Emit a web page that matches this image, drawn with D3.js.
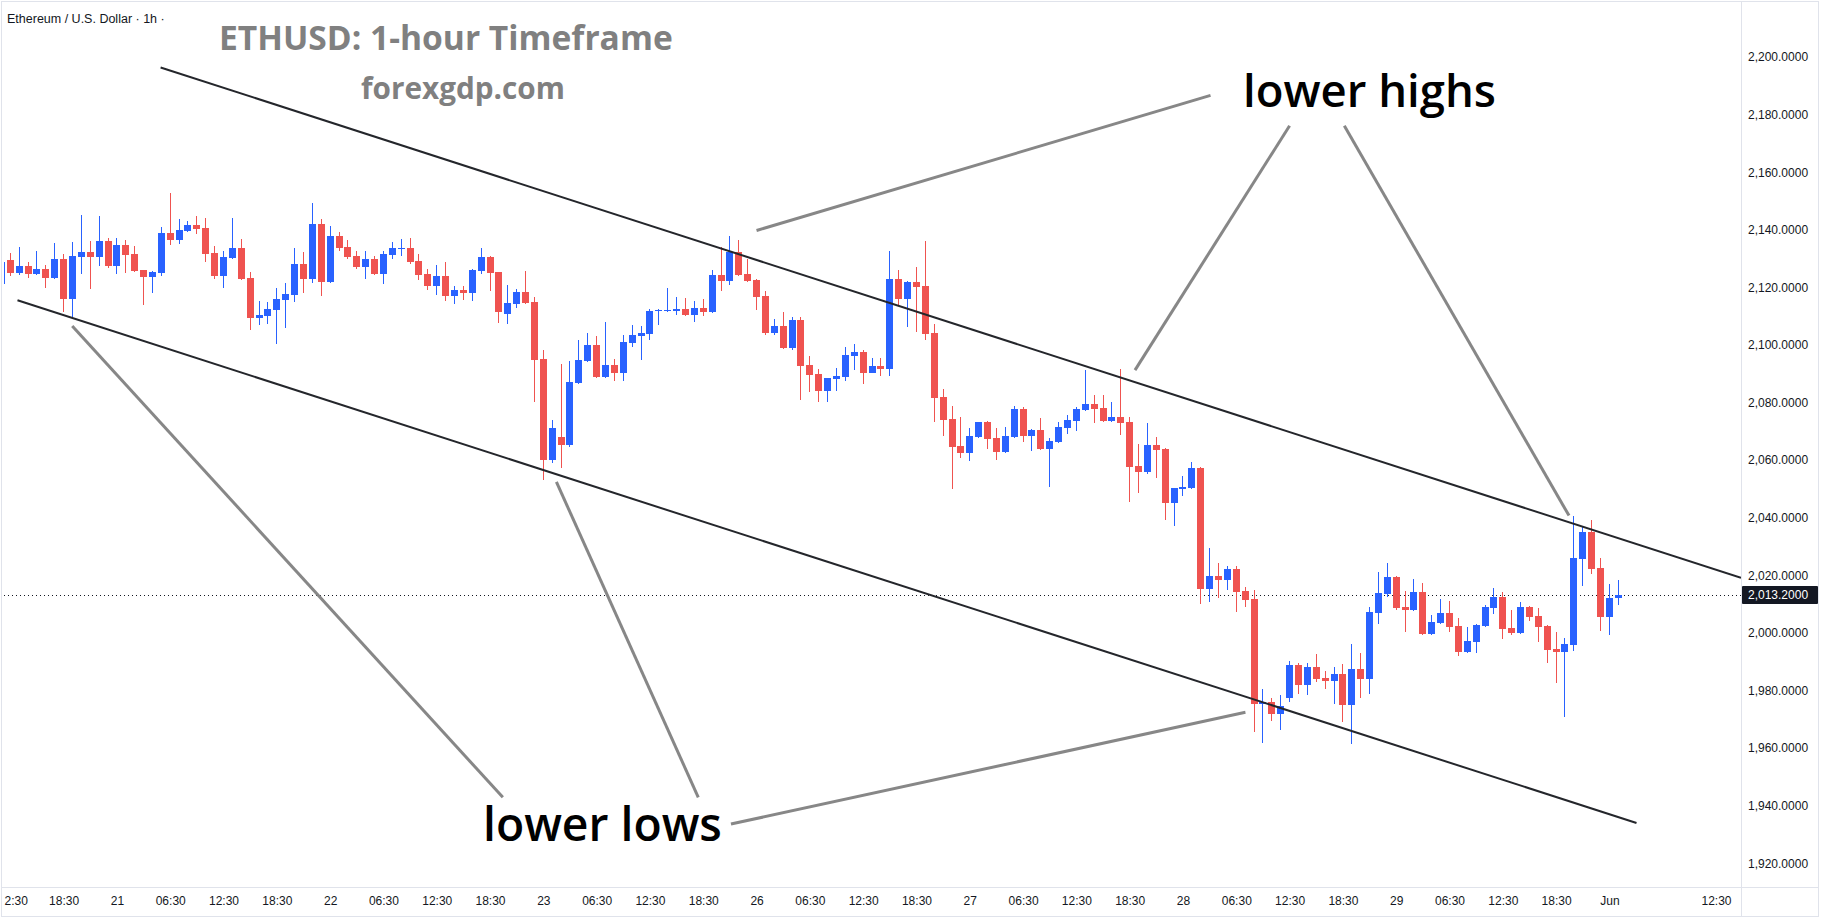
<!DOCTYPE html>
<html><head><meta charset="utf-8">
<script src="https://cdn.jsdelivr.net/npm/d3@7"></script>
<style>html,body{margin:0;padding:0;background:#fff;} svg{display:block;}</style>
</head><body>
<svg id="chart" width="1825" height="921"></svg>
<script>
// ---------- DATA ----------
// candle index of the first value in the arrays below (one candle before the first labelled hour)
const firstIndex = -1;
const opens = [2121.2,
2129.5,2125.1,2127.4,2124.7,2126.4,2123.4,2129.9,2116.1,2130.5,2132.3,2130.5,2136.1,2127.4,2134.7,2131.6,2126.0,2123.6,2125.0,2138.9,2136.5,
2139.6,2141.7,2140.6,2131.9,2124.0,2130.2,2133.7,2123.3,2109.4,2110.1,2112.1,2115.6,2117.3,2128.1,2122.9,2142.0,2121.9,2137.8,2134.0,2130.9,
2127.1,2129.9,2124.6,2131.2,2133.3,2133.7,2129.2,2124.6,2120.5,2124.0,2117.0,2119.1,2118.0,2125.7,2130.5,2125.3,2110.8,2114.2,2118.4,2114.9,
2095.1,2060.1,2068.0,2065.3,2086.8,2094.4,2100.0,2088.9,2093.0,2090.3,2100.7,2103.1,2103.8,2111.8,2111.8,2111.8,2112.5,2110.4,2112.8,2111.4,
2124.3,2122.2,2132.3,2124.6,2122.6,2117.0,2104.2,2106.6,2098.9,2108.7,2093.0,2089.9,2084.0,2088.2,2088.9,2096.2,2097.6,2090.3,2092.7,2091.7,
2122.9,2116.0,2121.9,2120.5,2104.2,2081.9,2074.3,2064.9,2062.5,2068.0,2073.2,2067.7,2062.8,2068.0,2077.8,2068.4,2070.5,2063.9,2066.3,2071.2,
2073.6,2077.4,2079.5,2078.1,2073.6,2075.0,2073.2,2058.0,2055.9,2065.3,2063.9,2045.1,2050.0,2050.3,2057.3,2015.3,2019.8,2018.4,2022.2,2014.6,
2011.8,1975.3,1976.0,1971.8,1977.4,1988.9,1981.9,1988.2,1984.3,1983.3,1985.7,1975.0,1987.5,1984.0,2006.9,2013.5,2019.4,2009.0,2008.0,2014.2,
1999.6,2003.4,2006.9,2002.4,1993.4,1996.8,2002.4,2008.7,2012.5,2001.7,2000.0,2009.0,2005.9,2002.4,1994.4,1993.4,1995.8,2025.7,2035.0,2022.5,
2005.5,2012.2];
const highs = [2129.5,
2131.9,2134.0,2128.8,2132.6,2127.8,2135.4,2131.6,2135.8,2145.2,2136.1,2144.8,2137.1,2137.1,2136.5,2134.4,2126.0,2125.7,2141.0,2152.8,2143.7,
2143.0,2144.8,2144.1,2134.4,2132.6,2144.1,2136.8,2125.3,2115.3,2114.9,2119.8,2121.5,2133.7,2132.3,2149.3,2143.7,2141.3,2139.2,2136.5,2132.6,
2132.6,2130.9,2132.6,2135.8,2136.8,2137.1,2131.6,2126.4,2127.8,2128.8,2120.5,2120.5,2126.4,2133.7,2130.9,2125.5,2120.8,2119.4,2125.7,2116.7,
2098.3,2073.9,2093.4,2094.4,2101.7,2104.2,2103.1,2108.0,2095.1,2103.5,2106.9,2106.6,2112.5,2112.5,2119.8,2116.7,2116.3,2115.3,2116.0,2126.0,
2134.0,2137.8,2136.5,2129.9,2122.9,2118.7,2109.0,2111.4,2109.7,2109.7,2096.2,2091.7,2088.5,2092.0,2099.3,2100.3,2098.3,2095.5,2095.5,2132.6,
2126.0,2122.2,2127.1,2136.1,2107.3,2084.7,2078.8,2075.0,2071.2,2073.4,2073.6,2071.2,2071.5,2078.8,2078.5,2070.7,2074.6,2067.7,2073.2,2075.7,
2078.5,2091.3,2082.6,2082.6,2080.2,2091.7,2075.0,2065.6,2072.9,2068.0,2064.2,2050.5,2054.5,2059.4,2057.5,2029.5,2024.3,2023.2,2023.2,2016.0,
2014.9,1980.5,1977.4,1978.4,1990.2,1989.6,1989.6,1992.7,1986.8,1988.2,1989.2,1996.2,1993.0,2009.0,2021.2,2024.3,2019.6,2014.6,2018.7,2017.3,
2006.2,2011.8,2011.1,2005.2,2002.1,2003.1,2009.7,2015.6,2014.2,2008.0,2010.7,2009.3,2008.7,2002.6,2000.3,1998.2,2040.6,2037.1,2039.2,2026.0,
2017.0,2018.4];
const lows = [2120.5,
2124.0,2124.3,2123.4,2124.4,2119.9,2122.8,2111.4,2109.7,2124.6,2119.5,2127.4,2126.7,2124.6,2125.0,2125.3,2113.9,2118.0,2124.0,2134.7,2135.1,
2139.4,2138.5,2128.8,2122.9,2119.8,2130.0,2122.6,2105.2,2106.9,2107.3,2100.3,2105.9,2115.0,2118.0,2121.5,2117.0,2121.5,2132.6,2129.9,2126.4,
2122.9,2124.4,2121.2,2129.9,2130.9,2128.1,2122.6,2119.1,2117.3,2115.3,2114.2,2115.6,2115.3,2124.6,2118.7,2107.6,2107.3,2112.8,2114.2,2080.2,
2053.1,2059.0,2057.3,2064.6,2086.4,2094.2,2088.5,2088.5,2087.5,2087.5,2099.3,2094.8,2101.7,2106.9,2111.6,2110.4,2110.1,2108.0,2110.1,2111.1,
2118.7,2120.8,2124.0,2122.0,2112.1,2103.5,2103.5,2098.6,2098.3,2080.9,2083.7,2080.2,2080.2,2084.0,2087.5,2091.3,2086.4,2090.1,2089.2,2089.2,
2113.9,2106.2,2104.5,2101.7,2073.2,2068.4,2050.0,2060.7,2059.7,2067.8,2063.9,2060.1,2062.6,2067.8,2066.3,2063.2,2063.5,2050.7,2066.0,2069.1,
2070.1,2077.2,2072.9,2073.4,2073.2,2068.7,2045.5,2048.6,2055.2,2053.8,2039.2,2037.1,2047.5,2050.1,2010.0,2010.7,2012.1,2014.9,2007.3,2009.0,
1965.6,1961.8,1969.4,1966.3,1976.0,1978.8,1978.4,1983.0,1980.5,1975.3,1969.1,1961.4,1977.4,1978.8,2003.1,2012.5,2008.0,2000.3,2007.6,1999.4,
1999.4,2003.2,2000.3,1992.0,1993.2,1993.0,2002.2,2006.6,1997.9,1999.3,1999.8,2004.1,1996.8,1989.6,1982.6,1970.8,1993.7,2016.3,2020.5,2000.7,
1999.3,2009.7];
const closes = [2128.8,
2125.1,2127.4,2124.7,2126.4,2123.4,2129.9,2116.1,2130.9,2132.3,2130.5,2136.1,2127.4,2134.7,2131.2,2125.7,2123.6,2125.3,2138.9,2136.5,2139.9,
2141.7,2140.3,2131.6,2124.0,2130.5,2133.7,2122.9,2109.4,2110.4,2112.5,2116.0,2117.7,2128.1,2122.9,2142.0,2121.9,2137.8,2133.7,2130.5,2127.1,
2129.9,2124.6,2131.6,2133.7,2133.7,2128.8,2124.3,2120.5,2124.0,2117.0,2119.1,2118.0,2126.0,2130.5,2125.0,2111.4,2114.6,2118.4,2114.6,2094.8,
2060.1,2071.2,2065.3,2087.1,2094.8,2100.0,2088.9,2093.0,2090.3,2101.0,2103.5,2104.2,2111.8,2112.2,2112.2,2112.5,2110.4,2112.8,2111.4,2124.3,
2122.2,2132.3,2124.3,2122.2,2116.7,2104.2,2106.6,2098.9,2108.7,2092.7,2089.6,2084.0,2088.5,2089.2,2096.5,2097.6,2090.3,2092.7,2091.7,2122.9,
2116.0,2121.9,2120.1,2103.8,2081.6,2073.9,2064.6,2062.5,2068.4,2073.2,2067.3,2062.8,2068.4,2077.8,2068.4,2070.5,2063.9,2066.6,2071.5,2073.9,
2077.8,2079.5,2077.8,2073.6,2075.0,2072.9,2057.6,2055.9,2065.3,2063.5,2045.1,2050.3,2050.7,2057.3,2015.3,2019.8,2018.4,2022.2,2014.2,2011.4,
1975.3,1976.0,1971.8,1974.6,1988.9,1981.9,1988.2,1984.0,1983.3,1985.7,1975.0,1987.5,1984.0,2007.3,2013.9,2019.4,2008.7,2008.0,2014.2,1999.6,
2003.8,2006.9,2002.1,1993.4,1997.2,2002.8,2009.0,2012.5,2001.4,2000.0,2009.0,2005.5,2002.1,1994.1,1993.4,1996.2,2026.0,2035.0,2022.2,2005.5,
2012.1,2013.2];

// time axis (hourly candles, candle index -> label); the first label is shown cut as in the reference
const xTickIndex  = [0,6,12,18,24,30,36,42,48,54,60,66,72,78,84,90,96,102,108,114,120,126,132,138,144,150,156,162,168,174,180,192];
const xTickLabels = ["2:30","18:30","21","06:30","12:30","18:30","22","06:30","12:30","18:30","23","06:30","12:30","18:30","26","06:30","12:30","18:30","27","06:30","12:30","18:30","28","06:30","12:30","18:30","29","06:30","12:30","18:30","Jun","12:30"];
const yTicks = [1920,1940,1960,1980,2000,2020,2040,2060,2080,2100,2120,2140,2160,2180,2200];
const lastPrice = 2013.2;

// drawn channel lines: [candle index, price]
const channelLines = [
  [[16.92, 2196.35], [194.81, 2019.14]],
  [[0.81, 2115.51], [183.05, 1934.0]]
];
// grey pointer lines: [candle index, price]
const pointerLines = [
  [[84.0, 2139.75], [135.1, 2186.66]],
  [[126.6, 2091.27], [144.0, 2176.14]],
  [[150.16, 2176.14], [175.45, 2040.74]],
  [[6.97, 2106.62], [55.44, 1942.91]],
  [[61.47, 2052.45], [77.44, 1942.91]],
  [[81.12, 1933.64], [139.03, 1972.43]]
];

// ---------- CHART ----------
const W = 1825, H = 921;
const plotL = 4, plotT = 4, plotR = 1741, plotB = 887;
const svg = d3.select("#chart");
const up = "#2962FF", down = "#EF5350";
const axisFont = "'Liberation Sans', Arial, sans-serif";

const x = d3.scaleLinear().domain([0, 181]).range([10.3, 1618.3]);
const y = d3.scaleLinear().domain([1920, 2200]).range([863.3, 57]);

svg.append("rect").attr("x",0).attr("y",0).attr("width",W).attr("height",H).attr("fill","#fff");

// frame
svg.append("rect").attr("x",1.5).attr("y",1.5).attr("width",1817).attr("height",915)
  .attr("fill","none").attr("stroke","#e0e3eb").attr("stroke-width",1);
svg.append("line").attr("x1",plotR+0.5).attr("x2",plotR+0.5).attr("y1",2).attr("y2",917)
  .attr("stroke","#e0e3eb");
svg.append("line").attr("x1",2).attr("x2",1818).attr("y1",plotB+0.5).attr("y2",plotB+0.5)
  .attr("stroke","#e0e3eb");

const defs = svg.append("defs");
defs.append("clipPath").attr("id","plotclip").append("rect")
  .attr("x",plotL).attr("y",plotT).attr("width",plotR-plotL).attr("height",plotB-plotT);

const plot = svg.append("g").attr("clip-path","url(#plotclip)");

// last price dotted line
plot.append("line").attr("x1",plotL).attr("x2",plotR)
  .attr("y1",Math.round(y(lastPrice))+0.5).attr("y2",Math.round(y(lastPrice))+0.5)
  .attr("stroke","#131722").attr("stroke-width",1).attr("stroke-dasharray","1,3");

// candles
const candles = opens.map((o,i)=>({i:i+firstIndex,o,h:highs[i],l:lows[i],c:closes[i]}));
const cg = plot.append("g").attr("shape-rendering","crispEdges");
const cs = cg.selectAll("g.c").data(candles).enter().append("g");
cs.append("rect")
  .attr("x",d=>Math.floor(x(d.i)))
  .attr("width",1)
  .attr("y",d=>Math.round(y(d.h)))
  .attr("height",d=>Math.max(1,Math.round(y(d.l))-Math.round(y(d.h))))
  .attr("fill",d=>d.c>=d.o?up:down);
cs.append("rect")
  .attr("x",d=>Math.floor(x(d.i))-3)
  .attr("width",7)
  .attr("y",d=>Math.round(y(Math.max(d.o,d.c))))
  .attr("height",d=>Math.max(1,Math.round(y(Math.min(d.o,d.c)))-Math.round(y(Math.max(d.o,d.c)))))
  .attr("fill",d=>d.c>=d.o?up:down);

// channel lines
plot.selectAll("line.ch").data(channelLines).enter().append("line")
  .attr("x1",d=>x(d[0][0])).attr("y1",d=>y(d[0][1]))
  .attr("x2",d=>x(d[1][0])).attr("y2",d=>y(d[1][1]))
  .attr("stroke","#24262b").attr("stroke-width",2);
// pointer lines
plot.selectAll("line.pt").data(pointerLines).enter().append("line")
  .attr("x1",d=>x(d[0][0])).attr("y1",d=>y(d[0][1]))
  .attr("x2",d=>x(d[1][0])).attr("y2",d=>y(d[1][1]))
  .attr("stroke","#878787").attr("stroke-width",3);

// y axis
const yAxis = d3.axisRight(y).tickValues(yTicks).tickSize(0).tickPadding(0)
  .tickFormat(d3.format(",.4f"));
const yg = svg.append("g").attr("transform",`translate(${plotR+7},0)`).call(yAxis);
yg.select(".domain").remove();
yg.selectAll("text").attr("font-family",axisFont)
  .attr("font-size",12).attr("fill","#131722").attr("x",0);

// price tag
const py = Math.round(y(lastPrice));
svg.append("rect").attr("x",plotR+1).attr("y",py-9).attr("width",76).attr("height",18)
  .attr("fill","#131722").attr("rx",1);
svg.append("text").attr("x",plotR+7).attr("y",py).attr("dy","0.35em")
  .attr("font-family",axisFont).attr("font-size",12)
  .attr("fill","#fff").text(d3.format(",.4f")(lastPrice));

// x axis
const xAxis = d3.axisBottom(x).tickValues(xTickIndex).tickSize(0).tickPadding(0)
  .tickFormat((d,k)=>xTickLabels[k]);
const xg = svg.append("g").attr("transform",`translate(0,${plotB+9})`).call(xAxis);
xg.select(".domain").remove();
xg.selectAll("text").attr("font-family",axisFont)
  .attr("font-size",12).attr("fill","#131722");
// first (cut) label starts at the panel's left edge
xg.selectAll(".tick").filter((d,k)=>k===0).select("text")
  .attr("text-anchor","start").attr("x", plotL - x(0));

// legend text
svg.append("text").attr("x",7).attr("y",23)
  .attr("font-family",axisFont).attr("font-size",12.5)
  .attr("fill","#131722").text("Ethereum / U.S. Dollar · 1h ·");

function fitText(sel, targetW){
  const w = sel.node().getComputedTextLength();
  const fs = parseFloat(sel.attr("font-size"));
  sel.attr("font-size", fs*targetW/w);
  return sel;
}
const titleFont = "'Open Sans', 'Noto Sans', sans-serif";
fitText(svg.append("text").attr("x",219).attr("y",50).attr("font-family",titleFont)
  .attr("font-weight",700).attr("font-size",34).attr("fill","#808080")
  .text("ETHUSD: 1-hour Timeframe"), 454);
fitText(svg.append("text").attr("x",361).attr("y",99).attr("font-family",titleFont)
  .attr("font-weight",700).attr("font-size",30).attr("fill","#808080")
  .text("forexgdp.com"), 204);
fitText(svg.append("text").attr("x",1243).attr("y",107).attr("font-family",titleFont)
  .attr("font-weight",600).attr("font-size",46).attr("fill","#000")
  .text("lower highs"), 253);
fitText(svg.append("text").attr("x",483).attr("y",841).attr("font-family",titleFont)
  .attr("font-weight",600).attr("font-size",47).attr("fill","#000")
  .text("lower lows"), 239);
</script>
</body></html>
